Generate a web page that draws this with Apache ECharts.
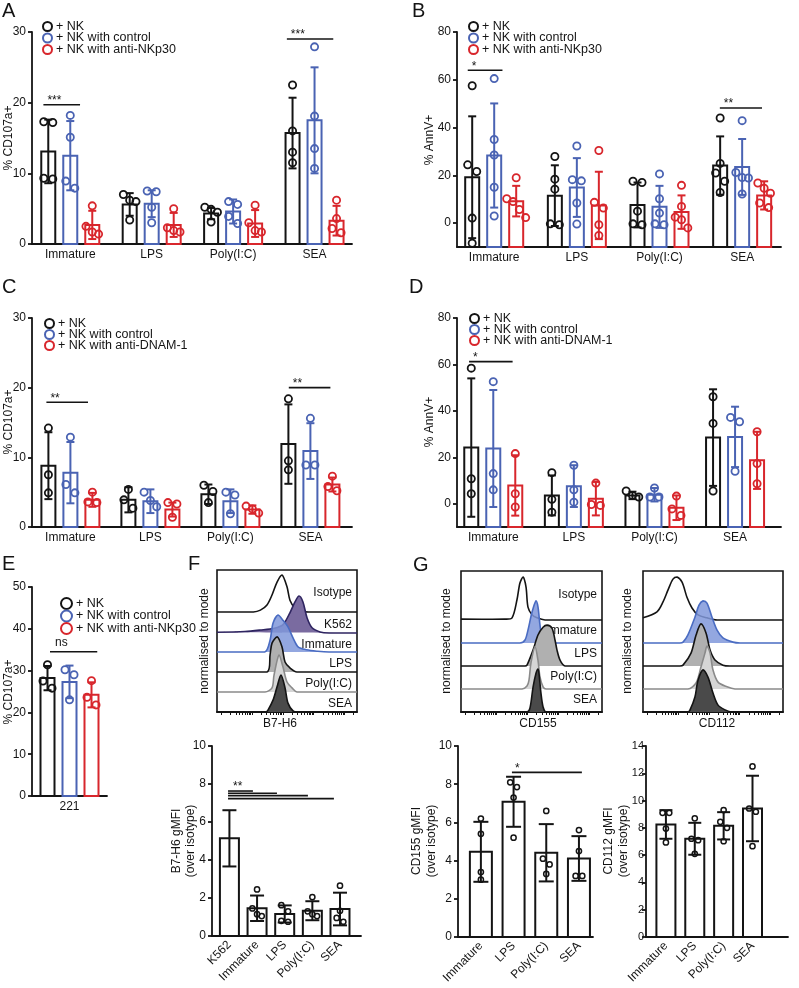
<!DOCTYPE html>
<html><head><meta charset="utf-8">
<script src="https://cdn.jsdelivr.net/npm/echarts@6/dist/echarts.min.js"></script>
<style>html,body{margin:0;padding:0;background:#fff}#c{width:799px;height:988px}</style>
</head><body><div id="c"></div>
<script>
const FONT = '"Liberation Sans", Arial, Helvetica, sans-serif';
const BLACK = '#141414', BLUE = '#4a63b3', RED = '#d8262c';

// ---------- Panels A-D categories ----------
const catsGroup = ['Immature', 'LPS', 'Poly(I:C)', 'SEA'];
const namesNKp30 = ['+ NK', '+ NK with control', '+ NK with anti-NKp30'];
const namesDNAM = ['+ NK', '+ NK with control', '+ NK with anti-DNAM-1'];

// ---------- Panel A : % CD107a+ ----------
const A_nk_mean = [13.1, 5.6, 4.3, 15.7];
const A_nk_sd = [4.5, 1.6, 0.8, 5.0];
const A_nk_pts = [[17.2, 17.3, 9.3, 9.2], [7.0, 6.2, 6.0, 3.4], [5.2, 4.9, 4.5, 3.1], [22.5, 16.0, 13.0, 11.5]];
const A_ctl_mean = [12.5, 5.7, 4.6, 17.5];
const A_ctl_sd = [4.9, 1.9, 1.7, 7.5];
const A_ctl_pts = [[18.2, 15.1, 8.9, 7.9], [7.5, 7.4, 5.2, 3.0], [6.0, 5.6, 3.9, 2.9], [27.9, 18.1, 13.5, 10.7]];
const A_anti_mean = [2.7, 2.7, 2.9, 3.3];
const A_anti_sd = [2.0, 1.7, 1.9, 2.1];
const A_anti_pts = [[5.4, 2.5, 1.7, 1.4], [5.0, 2.3, 1.9, 1.7], [5.5, 3.0, 1.9, 1.7], [6.2, 3.6, 2.2, 1.6]];
const A_sig = [[-0.33, 0.12, 19.7, '***'], [2.66, 3.23, 29.0, '***']];

// ---------- Panel B : % AnnV+ ----------
const B_nk_mean = [19.2, 11.5, 7.6, 24.1];
const B_nk_sd = [25.5, 12.7, 9.4, 12.2];
const B_nk_pts = [[57.5, 24.4, 21.6, 2.1, -8.4], [27.9, 18.4, 14.2, -0.3, -0.7], [17.0, 17.5, 5.0, -0.3, -0.7], [44.0, 25.0, 21.0, 17.5, 12.8]];
const B_ctl_mean = [28.3, 14.9, 6.8, 23.5];
const B_ctl_sd = [21.8, 12.3, 8.8, 11.7];
const B_ctl_pts = [[60.5, 35.0, 28.5, 15.0, 3.0], [32.3, 18.2, 17.7, 8.4, -0.4], [20.6, 10.2, 4.2, -0.3, -0.7], [42.9, 21.2, 19.1, 18.9, 12.2]];
const B_anti_mean = [9.2, 7.4, 4.6, 11.6];
const B_anti_sd = [6.4, 14.1, 7.0, 5.9];
const B_anti_pts = [[19.0, 10.2, 9.0, 5.7, 2.3], [30.4, 8.7, 6.3, -0.7, -5.2], [15.8, 7.0, 2.5, 1.4, -2.0], [16.8, 14.6, 12.5, 8.4, 6.5]];
const B_sig = [[-0.32, 0.10, 64.0, '*'], [2.73, 3.24, 48.2, '**']];

// ---------- Panel C : % CD107a+ (anti-DNAM-1) ----------
const C_nk_mean = [8.8, 3.9, 4.7, 11.9];
const C_nk_sd = [4.8, 1.8, 1.4, 5.7];
const C_nk_pts = [[14.2, 7.5, 4.9], [5.4, 3.9, 2.7], [6.0, 5.1, 3.5], [18.4, 9.5, 8.2]];
const C_ctl_mean = [7.8, 3.7, 3.7, 10.9];
const C_ctl_sd = [4.4, 1.7, 1.7, 4.0];
const C_ctl_pts = [[12.9, 6.1, 4.9], [5.0, 3.8, 2.9], [5.0, 4.6, 1.9], [15.6, 8.9, 8.9]];
const C_anti_mean = [3.9, 2.5, 2.5, 6.1];
const C_anti_sd = [1.0, 1.0, 0.6, 1.0];
const C_anti_pts = [[5.0, 3.6, 3.5], [3.5, 3.3, 1.4], [3.0, 2.6, 2.0], [7.3, 5.8, 5.2]];
const C_sig = [[-0.30, 0.22, 17.9, '**'], [2.73, 3.25, 20.0, '**']];

// ---------- Panel D : % AnnV+ (anti-DNAM-1) ----------
const D_nk_mean = [24.2, 3.6, 3.6, 28.5];
const D_nk_sd = [29.8, 8.6, 1.6, 20.8];
const D_nk_pts = [[58.4, 10.8, 4.3], [13.4, 1.9, -3.6], [5.5, 3.6, 2.9], [46.1, 34.6, 5.5]];
const D_ctl_mean = [23.8, 7.6, 3.9, 28.8];
const D_ctl_sd = [25.2, 9.0, 2.9, 13.0];
const D_ctl_pts = [[52.6, 13.0, 6.0], [16.6, 6.0, 0.7], [6.8, 2.9, 2.9], [37.2, 35.3, 14.0]];
const D_anti_mean = [7.9, 2.2, -1.7, 18.7];
const D_anti_sd = [13.0, 7.2, 5.3, 12.3];
const D_anti_pts = [[21.6, 4.3, -1.4], [8.9, -0.3, -0.7], [3.3, -2.2, -5.0], [31.0, 17.3, 8.6]];
const D_sig = [[-0.30, 0.24, 61.2, '*']];

// ---------- Panel E : 221 cells ----------
const catsE = ['221'];
const E_nk_mean = [28.2], E_nk_sd = [2.9], E_nk_pts = [[31.4, 27.5, 25.8]];
const E_ctl_mean = [27.3], E_ctl_sd = [3.9], E_ctl_pts = [[30.2, 29.0, 23.0]];
const E_anti_mean = [24.2], E_anti_sd = [3.0], E_anti_pts = [[27.6, 23.6, 21.8]];
const E_sig = [[-0.26, 0.37, 34.5, 'ns']];

// ---------- Panel F : B7-H6 ----------
const F_rows = ['Isotype', 'K562', 'Immature', 'LPS', 'Poly(I:C)', 'SEA'];
const F_iso = [[0,0],[26,0],[31,5],[35.7,19],[39.3,46],[42.9,81],[46.4,100],[50,68],[52.1,32],[55.7,11],[60.7,1],[66,0],[100,0]];
const F_k562 = [[0,2],[20,4],[31,8],[41,13],[47,22],[52,54],[55.7,84],[58.6,100],[61.4,84],[64.3,41],[67.9,14],[73.6,3],[80,0],[100,0]];
const F_imm = [[0,0],[34,0],[37.9,32],[40,78],[43.6,100],[47.1,86],[50.7,68],[54.3,38],[57.9,14],[64,6],[72,2],[80,0],[100,0]];
const F_lps = [[0,0],[35.7,0],[37.9,46],[39.3,78],[42.9,95],[46.4,68],[48.6,27],[52.1,11],[57.1,0],[100,0]];
const F_poly = [[0,0],[34.3,0],[39.3,11],[40.7,45],[44.3,100],[47.1,68],[50,27],[53.6,11],[57.1,0],[100,0]];
const F_sea = [[0,0],[35,0],[36.4,5],[40,32],[42.9,68],[45.7,100],[48.6,65],[50.7,24],[54.3,3],[57,0],[100,0]];
const F_cats = ['K562', 'Immature', 'LPS', 'Poly(I:C)', 'SEA'];
const F_mean = [5.14, 1.46, 1.16, 1.33, 1.42];
const F_sd = [1.48, 0.67, 0.45, 0.5, 0.86];
const F_pts = [[], [2.45, 1.45, 1.15, 1.05], [1.62, 1.3, 0.8, 0.75], [2.05, 1.3, 1.15, 1.05], [2.65, 1.33, 0.95, 0.75]];
const F_sig = [[-0.05, 0.85, 7.63, '**'], [-0.05, 1.72, 7.51, ''], [-0.05, 2.84, 7.39, ''], [-0.05, 3.78, 7.23, '']];

// ---------- Panel G : CD155 / CD112 ----------
const G_rows = ['Isotype', 'Immature', 'LPS', 'Poly(I:C)', 'SEA'];
const G155_iso = [[0,2],[31,2],[36.2,5],[39.7,47],[41.8,86],[44,100],[46.1,77],[47.5,30],[50.4,12],[53.9,5],[59.6,0],[100,0]];
const G155_imm = [[0,0],[41.8,0],[45.4,7],[47.5,30],[50.4,72],[53.2,98],[54.6,84],[56,42],[57.4,14],[60.3,0],[100,0]];
const G155_lps = [[0,0],[45.4,0],[46.8,2],[51.1,37],[54.6,72],[58.2,90],[61,95],[64.5,88],[66.7,60],[68.1,37],[70.2,14],[73.8,0],[100,0]];
const G155_poly = [[0,0],[43.3,0],[46.8,7],[48.2,20],[49.6,60],[52.5,98],[54.6,67],[56,28],[58.2,5],[60.3,0],[100,0]];
const G155_sea = [[0,0],[46.8,0],[48.9,9],[51.1,58],[53.2,90],[54.6,100],[55.3,90],[56.7,44],[58.2,12],[60.3,0],[100,0]];
const G112_iso = [[0,5],[10,19],[14.3,42],[17.9,70],[21.4,95],[24.3,100],[27.9,88],[31.4,53],[35,28],[39.3,12],[45.7,5],[52.9,0],[100,0]];
const G112_imm = [[0,0],[26.4,0],[28.6,2],[32.1,19],[37.1,60],[40,88],[42.9,98],[45.7,93],[49.3,60],[52.9,30],[57.1,12],[64.3,2],[69.3,0],[100,0]];
const G112_lps = [[0,0],[26.4,0],[28.6,2],[34.3,30],[37.9,72],[41.4,98],[45,77],[47.9,37],[51.4,14],[57.1,2],[62.1,0],[100,0]];
const G112_poly = [[0,0],[32.1,0],[37.9,14],[41.4,51],[44.3,84],[45.7,100],[47.9,84],[50,44],[53.6,16],[60,5],[65.7,0],[100,0]];
const G112_sea = [[0,0],[32.1,0],[33.6,5],[37.1,35],[39.3,74],[42.9,98],[46.4,81],[50,44],[53.6,16],[58.6,5],[63.6,0],[100,0]];
const G_cats = ['Immature', 'LPS', 'Poly(I:C)', 'SEA'];
const G155_mean = [4.46, 7.08, 4.41, 4.11];
const G155_sd = [1.57, 1.31, 1.5, 1.17];
const G155_pts = [[6.2, 5.4, 3.4, 3.0], [8.1, 7.85, 7.3, 5.2], [6.6, 4.1, 3.8, 3.3], [5.6, 4.5, 3.2, 3.2]];
const G155_sig = [[0.95, 3.09, 8.62, '*']];
const G112_mean = [8.25, 7.2, 8.15, 9.42];
const G112_sd = [1.05, 1.17, 1.0, 2.4];
const G112_pts = [[9.1, 9.1, 7.95, 6.93], [8.7, 7.2, 7.1, 6.1], [9.3, 8.44, 8.0, 7.02], [12.5, 9.42, 9.18, 6.66]];

// ---------- styles ----------
const TRI = [BLACK, BLUE, RED];
const histStylesF = [
  {stroke: BLACK, fill: null},
  {stroke: '#2e2460', fill: '#7a6ba0'},
  {stroke: '#4a6cc2', fill: 'rgba(128,152,218,0.85)'},
  {stroke: BLACK, fill: '#b0b0b0'},
  {stroke: '#8a8a8a', fill: '#d6d6d6'},
  {stroke: BLACK, fill: '#4a4a4a'}
];
const histStylesG = [histStylesF[0], histStylesF[2], histStylesF[3], histStylesF[4], histStylesF[5]];

function swarm(ys, d) {
  const idx = ys.map((y, i) => i).sort((a, b) => ys[a] - ys[b]);
  const offs = ys.map(() => 0);
  if (!idx.length) return offs;
  let grp = [idx[0]];
  const flush = () => { const k = grp.length; grp.forEach((i, j) => offs[i] = (j - (k - 1) / 2) * d * (k > 2 ? 0.7 : 1)); };
  for (let j = 1; j < idx.length; j++) {
    if (ys[idx[j]] - ys[idx[j - 1]] < d) grp.push(idx[j]); else { flush(); grp = [idx[j]]; }
  }
  flush();
  return offs;
}

function barSeries(o) {
  return {
    type: 'custom', name: o.name, xAxisIndex: o.axis, yAxisIndex: o.axis, silent: true, clip: false,
    data: o.mean.map((m, i) => [i, m, o.sd[i]]),
    renderItem(params, api) {
      const g = api.value(0), m = api.value(1), sd = api.value(2);
      const pc = api.coord([g, m]);
      const cx = pc[0] + o.off;
      const yb = api.coord([g, o.ymin])[1];
      const yHi = api.coord([g, m + sd])[1], yLo = api.coord([g, m - sd])[1];
      const ls = {stroke: o.color, lineWidth: o.lw, fill: 'none'};
      const ch = [
        {type: 'rect', shape: {x: cx - o.w / 2, y: pc[1], width: o.w, height: yb - pc[1]}, style: ls},
        {type: 'line', shape: {x1: cx, y1: yHi, x2: cx, y2: yLo}, style: ls},
        {type: 'line', shape: {x1: cx - o.cap / 2, y1: yHi, x2: cx + o.cap / 2, y2: yHi}, style: ls},
        {type: 'line', shape: {x1: cx - o.cap / 2, y1: yLo, x2: cx + o.cap / 2, y2: yLo}, style: ls}
      ];
      const pts = o.pts[params.dataIndex] || [];
      const pys = pts.map(v => api.coord([g, v])[1]);
      const offs = swarm(pys, o.r * 2 + o.plw);
      pys.forEach((py, k) => ch.push({type: 'circle', shape: {cx: cx + offs[k], cy: py, r: o.r},
        style: {fill: 'none', stroke: o.color, lineWidth: o.plw}}));
      return {type: 'group', children: ch};
    }
  };
}

function groupSeries(axis, names, means, sds, pts, ymin) {
  return [0, 1, 2].map(t => barSeries({name: names[t], axis, color: TRI[t], mean: means[t], sd: sds[t], pts: pts[t],
    off: (t - 1) * 22, w: 14, cap: 8, lw: 2, r: 3.6, plw: 1.8, ymin}));
}

function sigSeries(axis, sigs, dx) {
  return {
    type: 'custom', xAxisIndex: axis, yAxisIndex: axis, silent: true, clip: false,
    data: sigs.map(s => [s[0], s[1], s[2]]),
    renderItem(params, api) {
      const s = sigs[params.dataIndex];
      const p1 = api.coord([s[0], s[2]]), p2 = api.coord([s[1], s[2]]);
      const ch = [{type: 'line', shape: {x1: p1[0], y1: p1[1], x2: p2[0], y2: p2[1]}, style: {stroke: BLACK, lineWidth: 1.6}}];
      const dy = s[3].indexOf('*') >= 0 ? 2 : -3;
      if (s[3]) ch.push({type: 'text', style: {text: s[3], x: p1[0] + dx, y: p1[1] + dy, font: '12px ' + FONT, fill: BLACK, align: 'left', verticalAlign: 'bottom'}});
      return {type: 'group', children: ch};
    }
  };
}

function histSeries(axis, curves, labels, styles, bases, peak, H, labDy) {
  return {
    type: 'custom', xAxisIndex: axis, yAxisIndex: axis, silent: true, clip: false,
    data: curves.map((c, i) => [i, 0]),
    renderItem(params, api) {
      const i = params.dataIndex, b = bases[i];
      const pts = curves[i].map(p => api.coord([p[0], b + p[1] * peak / 100]));
      const xs = pts.map(p => p[0]), ys = pts.map(p => p[1]);
      const box = [[Math.min(...xs), Math.min(...ys)], [Math.max(...xs), Math.max(...ys)]];
      const st = styles[i];
      const ch = [];
      if (st.fill) ch.push({type: 'polygon', shape: {points: pts, smooth: 0.3, smoothConstraint: box}, style: {fill: st.fill}});
      ch.push({type: 'polyline', shape: {points: pts, smooth: 0.3, smoothConstraint: box}, style: {stroke: st.stroke, lineWidth: 1.6, fill: 'none'}});
      if (labels) {
        const top = i === 0 ? H : bases[i - 1];
        const xr = api.coord([100, 0])[0] - 5;
        const ym = api.coord([0, (b + top) / 2])[1] + labDy;
        ch.push({type: 'text', style: {text: labels[i], x: xr, y: ym, font: '12px ' + FONT, fill: BLACK, align: 'right', verticalAlign: 'middle'}});
      }
      return {type: 'group', children: ch};
    }
  };
}

// ---------- axes ----------
const grids = [], xAxes = [], yAxes = [];
const AX = {color: BLACK, width: 1.8};
function addBarGrid(g, cats, xr, yr, yTicks, rot, lblMargin, lblSize) {
  const gi = grids.length;
  grids.push({left: g[0], top: g[1], width: g[2], height: g[3]});
  xAxes.push({type: 'value', gridIndex: gi, min: xr[0], max: xr[1],
    axisLine: {show: true, onZero: false, lineStyle: AX}, axisTick: {show: false}, splitLine: {show: false},
    axisLabel: {customValues: cats.map((c, i) => i), formatter: v => cats[Math.round(v)] || '', fontSize: 12,
      color: BLACK, fontFamily: FONT, margin: rot ? 7 : 5, rotate: rot || 0}});
  yAxes.push({type: 'value', gridIndex: gi, min: yr[0], max: yr[1],
    axisLine: {show: true, onZero: false, lineStyle: AX}, splitLine: {show: false},
    axisTick: {show: true, length: 4, customValues: yTicks, lineStyle: AX},
    axisLabel: {customValues: yTicks, fontSize: lblSize || 12, color: BLACK, fontFamily: FONT, margin: lblMargin || 6}});
  return gi;
}
const logTicks = [];
for (let d = 0; d < 5; d++) for (let k = 1; k < 10; k++) { const v = 3 + d * 22 + Math.log10(k) * 22; if (v <= 100) logTicks.push(v); }
function addHistGrid(g) {
  const gi = grids.length;
  grids.push({left: g[0], top: g[1], width: g[2], height: g[3], show: true, borderColor: BLACK, borderWidth: 1.6});
  xAxes.push({type: 'value', gridIndex: gi, min: 0, max: 100, axisLine: {show: true, onZero: false, lineStyle: AX},
    axisTick: {show: true, length: 3, customValues: logTicks, lineStyle: {color: BLACK, width: 1}}, axisLabel: {show: false}, splitLine: {show: false}});
  yAxes.push({type: 'value', gridIndex: gi, min: 0, max: g[3], show: false, splitLine: {show: false}});
  return gi;
}

const gA = addBarGrid([32, 32, 320, 212], catsGroup, [-0.47, 3.46], [0, 30], [0, 10, 20, 30]);
const gB = addBarGrid([457, 32, 324, 215], catsGroup, [-0.45, 3.47], [-10, 80], [0, 20, 40, 60, 80]);
const gC = addBarGrid([32, 318, 320, 209], catsGroup, [-0.48, 3.52], [0, 30], [0, 10, 20, 30]);
const gD = addBarGrid([457, 318, 324, 209], catsGroup, [-0.45, 3.57], [-10, 80], [0, 20, 40, 60, 80]);
const gE = addBarGrid([32, 587, 75, 209], catsE, [-0.5, 0.5], [0, 50], [0, 10, 20, 30, 40, 50]);
const gFh = addHistGrid([217, 570, 140, 142]);
const gFb = addBarGrid([212, 746, 149, 190], F_cats, [-0.63, 4.76], [0, 10], [0, 2, 4, 6, 8, 10], 45);
const gGh1 = addHistGrid([461, 571, 141, 141]);
const gGh2 = addHistGrid([643, 571, 140, 141]);
const gGb1 = addBarGrid([458, 746, 135, 191], G_cats, [-0.70, 3.43], [0, 10], [0, 2, 4, 6, 8, 10], 45);
const gGb2 = addBarGrid([646, 746, 142, 191], G_cats, [-0.69, 4.23], [0, 14], [0, 2, 4, 6, 8, 10, 12, 14], 45, 2, 11);

const series = [].concat(
  groupSeries(gA, namesNKp30, [A_nk_mean, A_ctl_mean, A_anti_mean], [A_nk_sd, A_ctl_sd, A_anti_sd], [A_nk_pts, A_ctl_pts, A_anti_pts], 0),
  [sigSeries(gA, A_sig, 4)],
  groupSeries(gB, namesNKp30, [B_nk_mean, B_ctl_mean, B_anti_mean], [B_nk_sd, B_ctl_sd, B_anti_sd], [B_nk_pts, B_ctl_pts, B_anti_pts], -10),
  [sigSeries(gB, B_sig, 4)],
  groupSeries(gC, namesDNAM, [C_nk_mean, C_ctl_mean, C_anti_mean], [C_nk_sd, C_ctl_sd, C_anti_sd], [C_nk_pts, C_ctl_pts, C_anti_pts], 0),
  [sigSeries(gC, C_sig, 4)],
  groupSeries(gD, namesDNAM, [D_nk_mean, D_ctl_mean, D_anti_mean], [D_nk_sd, D_ctl_sd, D_anti_sd], [D_nk_pts, D_ctl_pts, D_anti_pts], -10),
  [sigSeries(gD, D_sig, 4)],
  groupSeries(gE, namesNKp30, [E_nk_mean, E_ctl_mean, E_anti_mean], [E_nk_sd, E_ctl_sd, E_anti_sd], [E_nk_pts, E_ctl_pts, E_anti_pts], 0),
  [sigSeries(gE, E_sig, 5)],
  [histSeries(gFh, [F_iso, F_k562, F_imm, F_lps, F_poly, F_sea], F_rows, histStylesF, [100, 79, 60, 40, 20, 0], 37, 142, 2)],
  [barSeries({name: 'F', axis: gFb, color: BLACK, mean: F_mean, sd: F_sd, pts: F_pts, off: 0, w: 19, cap: 14, lw: 2, r: 2.6, plw: 1.5, ymin: 0})],
  [sigSeries(gFb, F_sig, 5)],
  [histSeries(gGh1, [G155_iso, G155_imm, G155_lps, G155_poly, G155_sea], G_rows, histStylesG, [92, 69, 46, 23, 0], 43, 141, -1)],
  [histSeries(gGh2, [G112_iso, G112_imm, G112_lps, G112_poly, G112_sea], null, histStylesG, [92, 69, 46, 23, 0], 43, 141, 0)],
  [barSeries({name: 'G155', axis: gGb1, color: BLACK, mean: G155_mean, sd: G155_sd, pts: G155_pts, off: 0, w: 22, cap: 15, lw: 2, r: 2.6, plw: 1.5, ymin: 0})],
  [sigSeries(gGb1, G155_sig, 3)],
  [barSeries({name: 'G112', axis: gGb2, color: BLACK, mean: G112_mean, sd: G112_sd, pts: G112_pts, off: 0, w: 19, cap: 13, lw: 2, r: 2.6, plw: 1.5, ymin: 0})]
);

function mkLegend(left, top, names, gap, icon) {
  return {left, top, orient: 'vertical', itemGap: gap, itemWidth: icon, itemHeight: icon, padding: 0, selectedMode: false,
    textStyle: {fontSize: 12.5, fontFamily: FONT, color: BLACK, padding: [0, 0, 0, -1]},
    data: names.map((n, i) => ({name: n, icon: 'circle', itemStyle: {color: 'rgba(255,255,255,0)', borderColor: TRI[i], borderWidth: 2}}))};
}

function vText(x, y, t) {
  return {type: 'text', x, y, rotation: Math.PI / 2, style: {text: t, font: '12px ' + FONT, fill: BLACK, align: 'center', verticalAlign: 'middle'}};
}
function hText(x, y, t, size, align) {
  return {type: 'text', x, y, style: {text: t, font: (size || 12) + 'px ' + FONT, fill: BLACK, align: align || 'center', verticalAlign: 'middle'}};
}

const graphic = [
  hText(2, 11, 'A', 20, 'left'), hText(412, 11, 'B', 20, 'left'), hText(2, 287, 'C', 20, 'left'), hText(409, 287, 'D', 20, 'left'),
  hText(2, 564, 'E', 20, 'left'), hText(188, 564, 'F', 20, 'left'), hText(413, 565, 'G', 20, 'left'),
  vText(9, 138, '% CD107a+'), vText(430, 140, '% AnnV+'), vText(9, 422, '% CD107a+'), vText(430, 422, '% AnnV+'),
  vText(9, 692, '% CD107a+'),
  vText(205, 641, 'normalised to mode'), vText(447, 641, 'normalised to mode'), vText(628, 641, 'normalised to mode'),
  hText(280, 724, 'B7-H6'), hText(538, 724, 'CD155'), hText(717, 724, 'CD112'),
  vText(177, 841, 'B7-H6 gMFI'), vText(191, 841, '(over isotype)'),
  vText(417, 841, 'CD155 gMFI'), vText(432, 841, '(over isotype)'),
  vText(609, 841, 'CD112 gMFI'), vText(624, 841, '(over isotype)')
];

const chart = echarts.init(document.getElementById('c'), null, {renderer: 'canvas'});
chart.setOption({
  animation: false,
  backgroundColor: '#fff',
  textStyle: {fontFamily: FONT},
  grid: grids, xAxis: xAxes, yAxis: yAxes, series,
  legend: [
    mkLegend(42, 20, namesNKp30, -1.5, 9),
    mkLegend(468, 20, namesNKp30, -1.5, 9),
    mkLegend(44, 317, namesDNAM, -2, 9),
    mkLegend(469, 312, namesDNAM, -2, 9),
    mkLegend(60, 597, namesNKp30, -0.5, 11)
  ],
  graphic
});
</script></body></html>
